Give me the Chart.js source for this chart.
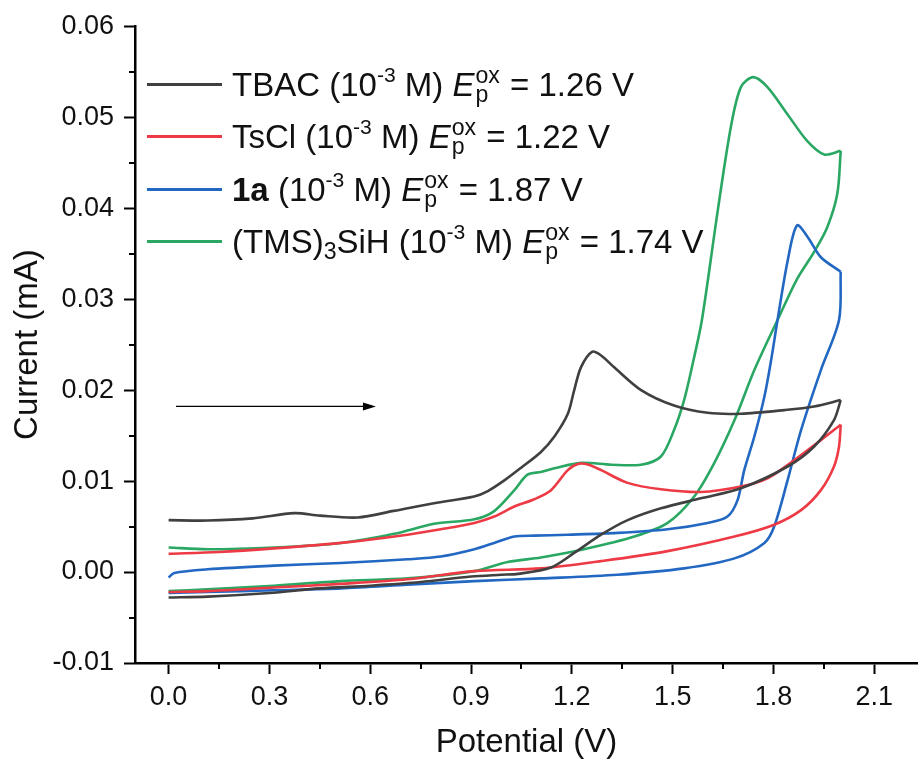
<!DOCTYPE html>
<html>
<head>
<meta charset="utf-8">
<title>Cyclic voltammograms</title>
<script src="https://cdn.jsdelivr.net/npm/chart.js@4.4.0/dist/chart.umd.min.js"></script>
<style>
  html, body { margin: 0; padding: 0; background: #fff; }
  #wrap { position: relative; width: 918px; height: 763px; }
  #legend { position: absolute; left: 0; top: 0; font-family: "Liberation Sans", Arial, sans-serif; font-size: 33px; color: #111; }
  .row { position: absolute; left: 147px; height: 40px; display: flex; align-items: center; white-space: nowrap; line-height: 1; }
  .swatch { width: 75px; height: 3px; margin-right: 10px; }
  .sup { position: relative; top: -0.66em; font-size: 0.64em; }
  .sub { position: relative; top: 0.3em; font-size: 0.7em; }
  .ss { position: relative; display: inline-block; font-size: 0.7em; width: 1.1em; height: 1px; margin-left: 1px; }
  .ss span { position: absolute; left: 0; line-height: 1; }
  .ss .up { bottom: 0.36em; }
  .ss .dn { bottom: -0.48em; }
</style>
</head>
<body>
<div id="wrap">
  <canvas id="cvChart" width="918" height="763"></canvas>
  <div id="legend"></div>
</div>
<script>
// potential (V) / current (mA) pairs, forward scan 0 -> 2.0 V then back to 0 V
var tbacE = [0.0, 0.116, 0.25, 0.374, 0.45, 0.563, 0.67, 0.79, 0.909, 0.95, 1.0, 1.05, 1.108, 1.148, 1.188, 1.207, 1.227, 1.26, 1.287, 1.326, 1.406, 1.504, 1.604, 1.703, 1.832, 1.921, 2.0,
             1.98, 1.921, 1.842, 1.703, 1.584, 1.465, 1.366, 1.287, 1.207, 1.138, 1.04, 0.99, 0.9, 0.75, 0.6, 0.45, 0.3, 0.116, 0.0];
var tbacI = [0.0057, 0.00566, 0.0059, 0.00647, 0.0062, 0.006, 0.00672, 0.00757, 0.0083, 0.0089, 0.0101, 0.0115, 0.0132, 0.0149, 0.0174, 0.0200, 0.0225, 0.0242, 0.0238, 0.0225, 0.0200, 0.0183, 0.0175, 0.0174, 0.0178, 0.0182, 0.0189,
             0.0167, 0.0138, 0.0116, 0.0092, 0.0081, 0.0070, 0.0057, 0.0041, 0.0021, 0.0005, -0.0002, -0.0003, -0.0005, -0.0011, -0.0015, -0.0018, -0.0023, -0.0027, -0.0028];

var tsclE = [0.0, 0.15, 0.314, 0.513, 0.711, 0.81, 0.91, 0.969, 1.029, 1.088, 1.138, 1.188, 1.22, 1.25, 1.287, 1.366, 1.465, 1.584, 1.703, 1.782, 1.862, 1.941, 2.0,
             1.995, 1.98, 1.941, 1.882, 1.802, 1.684, 1.485, 1.287, 1.108, 0.91, 0.711, 0.513, 0.314, 0.116, 0.0];
var tsclI = [0.002, 0.0022, 0.0026, 0.0032, 0.0041, 0.0047, 0.0054, 0.0061, 0.0072, 0.0080, 0.0090, 0.0112, 0.0119, 0.0118, 0.0112, 0.0098, 0.0091, 0.0088, 0.0094, 0.0103, 0.0123, 0.0145, 0.0162,
             0.0138, 0.0116, 0.0090, 0.0068, 0.0052, 0.0039, 0.0023, 0.0012, 0.0004, 0.0001, -0.0008, -0.0013, -0.0017, -0.0021, -0.0022];

var cmpdE = [0.0, 0.017, 0.116, 0.314, 0.513, 0.711, 0.81, 0.91, 0.969, 1.029, 1.088, 1.188, 1.336, 1.485, 1.604, 1.663, 1.693, 1.713, 1.743, 1.773, 1.793, 1.812, 1.842, 1.87, 1.902, 1.941, 2.0,
             1.995, 1.941, 1.882, 1.842, 1.802, 1.773, 1.684, 1.534, 1.336, 1.108, 0.91, 0.711, 0.513, 0.314, 0.116, 0.0];
var cmpdI = [-0.0006, -0.0001, 0.0003, 0.0007, 0.0010, 0.0014, 0.0017, 0.0025, 0.0032, 0.0039, 0.0040, 0.0041, 0.0043, 0.0047, 0.0054, 0.0061, 0.0079, 0.0112, 0.0149, 0.0193, 0.0233, 0.0277, 0.0342, 0.0381, 0.0368, 0.0346, 0.0330,
             0.0277, 0.0222, 0.0156, 0.0101, 0.0050, 0.0032, 0.0015, 0.0004, -0.0003, -0.0007, -0.0010, -0.0014, -0.0018, -0.0020, -0.0022, -0.0023];

var tmsE = [0.0, 0.116, 0.314, 0.513, 0.671, 0.79, 0.91, 0.969, 1.029, 1.068, 1.108, 1.148, 1.227, 1.317, 1.406, 1.465, 1.504, 1.534, 1.562, 1.587, 1.634, 1.673, 1.703, 1.74, 1.782, 1.842, 1.9, 1.951, 2.0,
            1.99, 1.96, 1.921, 1.87, 1.812, 1.743, 1.684, 1.624, 1.564, 1.485, 1.386, 1.236, 1.108, 1.009, 0.91, 0.711, 0.513, 0.314, 0.116, 0.0];
var tmsI = [0.0027, 0.0025, 0.0027, 0.0032, 0.0042, 0.0053, 0.0058, 0.0067, 0.0090, 0.0107, 0.0110, 0.0114, 0.0120, 0.0118, 0.0118, 0.0127, 0.0156, 0.0189, 0.0233, 0.0277, 0.0397, 0.0489, 0.0533, 0.0544, 0.0533, 0.0503, 0.0474, 0.0459, 0.0463,
            0.0416, 0.0379, 0.0352, 0.0322, 0.0277, 0.0222, 0.0167, 0.0120, 0.0083, 0.0054, 0.0039, 0.0025, 0.0016, 0.0011, 0.0001, -0.0007, -0.0010, -0.0015, -0.0019, -0.0021];

var seriesNames = ['TBAC', 'TsCl', '<b>1a</b>', '(TMS)<span class="sub">3</span>SiH'];
var peakPotentials = [1.26, 1.22, 1.87, 1.74];

var xTicks = [0.0, 0.3, 0.6, 0.9, 1.2, 1.5, 1.8, 2.1];
var yTicks = [-0.01, 0.0, 0.01, 0.02, 0.03, 0.04, 0.05, 0.06];

// scan direction arrow (potential, current)
var arrowFrom = [0.022, 0.0182];
var arrowTo = [0.617, 0.0182];

var lineColors = ['#404040', '#ee3a45', '#2268c2', '#2aa863'];
var FONT = '"Liberation Sans", Arial, sans-serif';

var curves = [[tbacE, tbacI], [tsclE, tsclI], [cmpdE, cmpdI], [tmsE, tmsI]];

// split each loop at the switching potential so the turn stays a sharp corner
function scanBranches(xs, ys) {
  var turn = xs.indexOf(Math.max.apply(null, xs));
  var pts = xs.map(function (x, i) { return { x: x, y: ys[i] }; });
  return [pts.slice(0, turn + 1), pts.slice(turn)];
}

var datasets = [];
curves.forEach(function (c, i) {
  scanBranches(c[0], c[1]).forEach(function (branch) {
    datasets.push({
      label: seriesNames[i],
      data: branch,
      showLine: true,
      borderColor: lineColors[i],
      backgroundColor: lineColors[i],
      borderWidth: 2.6,
      pointRadius: 0,
      tension: 0.3,
      fill: false,
    });
  });
});

// minor ticks half way between the labelled ones
var minorTicks = {
  afterDraw: function (chart) {
    var ctx = chart.ctx;
    var xs = chart.scales.x, ys = chart.scales.y;
    ctx.save();
    ctx.strokeStyle = '#000';
    ctx.lineWidth = 2;
    for (var i = 0; i < xTicks.length - 1; i++) {
      var px = Math.round(xs.getPixelForValue((xTicks[i] + xTicks[i + 1]) / 2));
      ctx.beginPath();
      ctx.moveTo(px, ys.bottom);
      ctx.lineTo(px, ys.bottom + 6);
      ctx.stroke();
    }
    for (var j = 0; j < yTicks.length - 1; j++) {
      var py = Math.round(ys.getPixelForValue((yTicks[j] + yTicks[j + 1]) / 2));
      ctx.beginPath();
      ctx.moveTo(xs.left, py);
      ctx.lineTo(xs.left - 6, py);
      ctx.stroke();
    }
    ctx.restore();
  }
};

var scanArrow = {
  afterDatasetsDraw: function (chart) {
    var ctx = chart.ctx;
    var xs = chart.scales.x, ys = chart.scales.y;
    var x0 = xs.getPixelForValue(arrowFrom[0]), y0 = ys.getPixelForValue(arrowFrom[1]);
    var x1 = xs.getPixelForValue(arrowTo[0]), y1 = ys.getPixelForValue(arrowTo[1]);
    ctx.save();
    ctx.strokeStyle = '#000';
    ctx.fillStyle = '#000';
    ctx.lineWidth = 1.3;
    ctx.beginPath();
    ctx.moveTo(x0, y0);
    ctx.lineTo(x1 - 10, y1);
    ctx.stroke();
    ctx.beginPath();
    ctx.moveTo(x1, y1);
    ctx.lineTo(x1 - 13, y1 - 4);
    ctx.lineTo(x1 - 13, y1 + 4);
    ctx.closePath();
    ctx.fill();
    ctx.restore();
  }
};

var ctx = document.getElementById('cvChart').getContext('2d');
var cvChart = new Chart(ctx, {
  type: 'scatter',
  data: { datasets: datasets },
  options: {
    responsive: false,
    animation: false,
    layout: { padding: { top: 25, right: 0, bottom: 0, left: 0 } },
    plugins: {
      legend: { display: false },
      tooltip: { enabled: false },
    },
    scales: {
      x: {
        type: 'linear',
        min: -0.1,
        max: 2.23,
        afterBuildTicks: function (scale) {
          scale.ticks = xTicks.map(function (v) { return { value: v }; });
        },
        afterFit: function (scale) { scale.height = 100; },
        ticks: {
          color: '#111',
          font: { family: FONT, size: 27 },
          padding: 7,
          maxRotation: 0,
          callback: function (v) { return Number(v).toFixed(1); },
        },
        grid: { drawOnChartArea: false, tickLength: 11, tickWidth: 2, tickColor: '#000' },
        border: { color: '#000', width: 2.5 },
        title: {
          display: true,
          text: 'Potential (V)',
          color: '#111',
          font: { family: FONT, size: 33 },
          padding: { top: 0, bottom: 0 },
        },
      },
      y: {
        type: 'linear',
        min: -0.01,
        max: 0.06,
        afterBuildTicks: function (scale) {
          scale.ticks = yTicks.map(function (v) { return { value: v }; });
        },
        afterFit: function (scale) { scale.width = 135; },
        ticks: {
          color: '#111',
          font: { family: FONT, size: 27 },
          padding: 10,
          callback: function (v) { return Number(v).toFixed(2); },
        },
        grid: { drawOnChartArea: false, tickLength: 11, tickWidth: 2, tickColor: '#000' },
        border: { color: '#000', width: 2.5 },
        title: {
          display: true,
          text: 'Current (mA)',
          color: '#111',
          font: { family: FONT, size: 33 },
          padding: { top: 8, bottom: 0 },
        },
      },
    },
  },
  plugins: [minorTicks, scanArrow],
});

// legend with super/subscripts
var legendRows = [84, 136, 189, 241];
var legendHtml = '';
seriesNames.forEach(function (name, i) {
  legendHtml += '<div class="row" style="top:' + (legendRows[i] - 20) + 'px">' +
    '<div class="swatch" style="background:' + lineColors[i] + '"></div>' +
    '<span>' + name + ' (10<span class="sup">-3</span> M) <i>E</i>' +
    '<span class="ss"><span class="up">ox</span><span class="dn">p</span></span> = ' +
    peakPotentials[i].toFixed(2) + ' V</span></div>';
});
document.getElementById('legend').innerHTML = legendHtml;
</script>
</body>
</html>
